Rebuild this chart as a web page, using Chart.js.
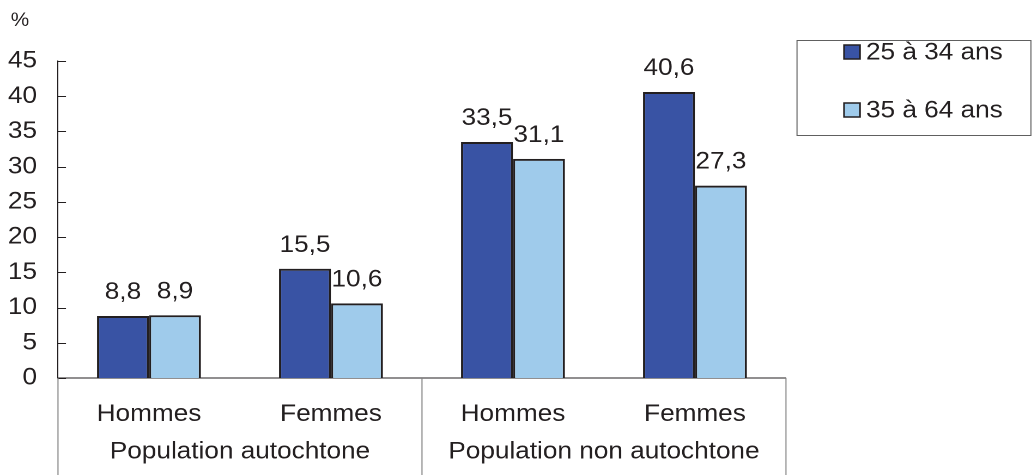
<!DOCTYPE html>
<html>
<head>
<meta charset="utf-8">
<script src="https://cdn.jsdelivr.net/npm/chart.js@4/dist/chart.umd.min.js"></script>
<style>
  html, body { margin: 0; padding: 0; background: #fff; overflow: hidden; }
  #chart { transform: scaleX(1.0898); transform-origin: 0 0; display: block; }
</style>
</head>
<body>
<canvas id="chart" width="947" height="475"></canvas>
<script>
// data
const categories = ['Hommes', 'Femmes', 'Hommes', 'Femmes'];
const groups = ['Population autochtone', 'Population non autochtone'];
const seriesLabels = ['25 à 34 ans', '35 à 64 ans'];
const young = [8.8, 15.5, 33.5, 40.6];
const older = [8.9, 10.6, 31.1, 27.3];
const yMin = 0, yMax = 45, yStep = 5;

const S = 1.0898; // horizontal stretch of the original
const ink = '#231F20';
const face = 'Liberation Sans, Arial, sans-serif';
const fnt = { family: face, size: 24 };

const extras = {
    id: 'extras',
    afterDatasetsDraw(chart) {
        const ctx = chart.ctx;
        ctx.save();
        ctx.font = '24px ' + face;
        ctx.fillStyle = ink;
        ctx.textAlign = 'center';
        ctx.textBaseline = 'alphabetic';
        chart.data.datasets.forEach((ds, i) => {
            chart.getDatasetMeta(i).data.forEach((bar, j) => {
                ctx.fillText(String(ds.data[j]).replace('.', ','), bar.x, bar.y - 17);
            });
        });
        ctx.restore();
    },
    afterDraw(chart) {
        const ctx = chart.ctx, a = chart.chartArea;
        const xs = chart.scales.x, ys = chart.scales.y;
        ctx.save();
        // tick marks point inward
        ctx.strokeStyle = ink;
        ctx.lineWidth = 1;
        ys.ticks.forEach((t, i) => {
            const py = Math.round(ys.getPixelForTick(i)) + 0.5;
            ctx.beginPath();
            ctx.moveTo(a.left, py);
            ctx.lineTo(a.left + 8 / S, py);
            ctx.stroke();
        });
        // group dividers and group labels
        const mid = (xs.getPixelForValue(1) + xs.getPixelForValue(2)) / 2;
        ctx.strokeStyle = '#808080';
        [a.left, mid, a.right].forEach(px => {
            ctx.beginPath();
            ctx.moveTo(px, a.bottom);
            ctx.lineTo(px, chart.height);
            ctx.stroke();
        });
        ctx.font = '24px ' + face;
        ctx.fillStyle = ink;
        ctx.textAlign = 'center';
        ctx.textBaseline = 'middle';
        ctx.fillText(groups[0], (a.left + mid) / 2, 452);
        ctx.fillText(groups[1], (mid + a.right) / 2, 452);
        // unit
        ctx.font = '19px ' + face;
        ctx.fillText('%', 20 / S, 21);
        // legend box
        ctx.strokeStyle = '#606060';
        ctx.strokeRect(797 / S, 40.5, chart.width - 1 - 797 / S, 95);
        ctx.font = '24px ' + face;
        ctx.textAlign = 'left';
        chart.data.datasets.forEach((ds, i) => {
            const cy = 52 + i * 58;
            ctx.fillStyle = ds.backgroundColor;
            ctx.fillRect(844 / S, cy - 7, 16 / S, 14);
            ctx.strokeStyle = ink;
            ctx.lineWidth = 1.5;
            ctx.strokeRect(844 / S, cy - 7, 16 / S, 14);
            ctx.fillStyle = ink;
            ctx.fillText(ds.label, 866 / S, cy + 1);
        });
        ctx.restore();
    }
};

new Chart(document.getElementById('chart'), {
    type: 'bar',
    data: {
        labels: categories,
        datasets: [
            { label: seriesLabels[0], data: young, backgroundColor: '#3953A4', borderColor: ink, borderWidth: 2 },
            { label: seriesLabels[1], data: older, backgroundColor: '#9FCBEB', borderColor: ink, borderWidth: 2 }
        ]
    },
    options: {
        responsive: false,
        animation: false,
        devicePixelRatio: 2,
        categoryPercentage: 0.571,
        barPercentage: 1,
        layout: { padding: { top: 61, right: 225.8, left: 0, bottom: 0 } },
        plugins: { legend: { display: false }, tooltip: { enabled: false } },
        scales: {
            x: {
                grid: { display: false },
                border: { color: ink, width: 1 },
                ticks: { color: ink, font: fnt, padding: 14, maxRotation: 0 },
                afterFit(scale) { scale.height = 97; }
            },
            y: {
                min: yMin,
                max: yMax,
                grid: { display: false, drawTicks: false },
                border: { color: ink, width: 1 },
                ticks: { stepSize: yStep, color: ink, font: fnt, padding: 19.2 },
                afterFit(scale) { scale.width = 53.2; }
            }
        }
    },
    plugins: [extras]
});
</script>
</body>
</html>
